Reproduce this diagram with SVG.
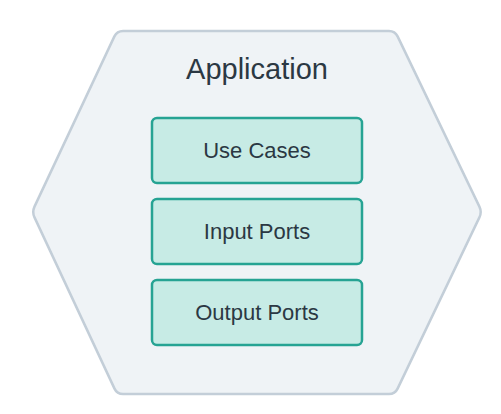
<svg xmlns="http://www.w3.org/2000/svg" width="501" height="414" viewBox="0 0 501 414">
<style>
.hex{fill:#eff3f6;stroke:#c3ced8;stroke-width:2.5}
.box{fill:#c7ebe5;stroke:#26a393;stroke-width:2.5}
.t{font-family:"Liberation Sans",Arial,sans-serif;fill:#2b3843;text-anchor:middle}
.title{font-size:29px}
.lbl{font-size:22px}
</style>
<rect width="501" height="414" fill="#ffffff"/>
<g id="application">
<path class="hex" d="M123,31 L389,31 Q395,31 397.6,36.4 L479.4,206.6 Q482,212 479.4,217.4 L397.6,388.6 Q395,394 389,394 L123,394 Q117,394 114.5,388.6 L34.5,217.4 Q32,212 34.5,206.6 L114.4,36.4 Q117,31 123,31 Z"/>
<text class="t title" x="257" y="79">Application</text>
</g>
<g id="use-cases">
<rect class="box" x="152" y="118" width="210" height="65" rx="5"/>
<text class="t lbl" x="257" y="158">Use Cases</text>
</g>
<g id="input-ports">
<rect class="box" x="152" y="199" width="210" height="65" rx="5"/>
<text class="t lbl" x="257" y="239">Input Ports</text>
</g>
<g id="output-ports">
<rect class="box" x="152" y="280" width="210" height="65" rx="5"/>
<text class="t lbl" x="257" y="320">Output Ports</text>
</g>
<g id="connectors"></g>
</svg>
